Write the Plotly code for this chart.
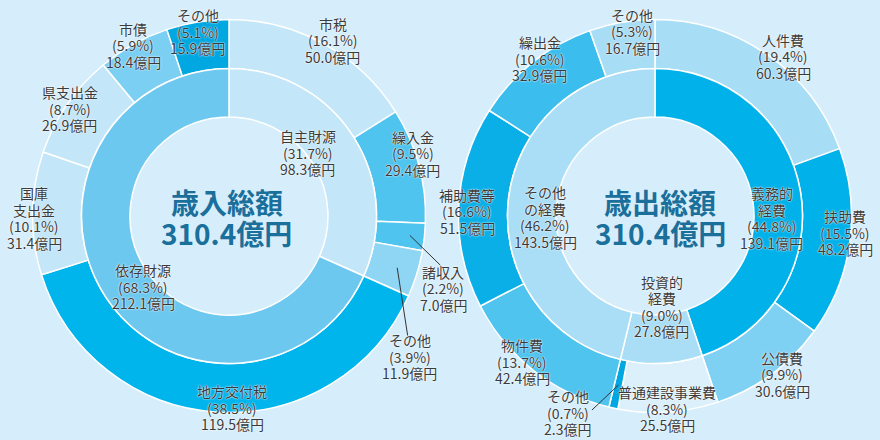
import math
import plotly.graph_objects as go

W, H = 880, 440
BG = "#d6eefb"
TXT = "#3a3a3a"
TITLE_C = "#1a6f9b"
FONT = "Noto Sans CJK JP"

# ---------------- data ----------------
rev_total = 310.4
rev_inner_names = ["自主財源", "依存財源"]
rev_inner_values = [98.3, 212.1]
rev_inner_pcts = ["31.7", "68.3"]
rev_outer_names = ["市税", "繰入金", "諸収入", "その他", "地方交付税", "国庫支出金", "県支出金", "市債", "その他"]
rev_outer_values = [50.0, 29.4, 7.0, 11.9, 119.5, 31.4, 26.9, 18.4, 15.9]
rev_outer_pcts = ["16.1", "9.5", "2.2", "3.9", "38.5", "10.1", "8.7", "5.9", "5.1"]

exp_total = 310.4
exp_inner_names = ["義務的経費", "投資的経費", "その他の経費"]
exp_inner_values = [139.1, 27.8, 143.5]
exp_inner_pcts = ["44.8", "9.0", "46.2"]
exp_outer_names = ["人件費", "扶助費", "公債費", "普通建設事業費", "その他", "物件費", "補助費等", "繰出金", "その他"]
exp_outer_values = [60.3, 48.2, 30.6, 25.5, 2.3, 42.4, 51.5, 32.9, 16.7]
exp_outer_pcts = ["19.4", "15.5", "9.9", "8.3", "0.7", "13.7", "16.6", "10.6", "5.3"]

# ---------------- styling / layout ----------------
rev_inner_colors = ["#c3e6f8", "#6dc8ef"]
rev_outer_colors = ["#c3e6f8", "#4ec4ef", "#4ec4ef", "#8fd5f4", "#00b4ec",
                    "#c3e6f8", "#c3e6f8", "#7acff2", "#00a7e1"]
exp_inner_colors = ["#00b1ea", "#aadef6", "#aadef6"]
exp_outer_colors = ["#a8ddf6", "#00b1ea", "#7fd1f3", "#dbf0fb", "#00a7e1",
                    "#4ec4ef", "#0aafe8", "#3bbeee", "#a8ddf6"]

# display line breaks for names
rev_inner_disp = [["自主財源"], ["依存財源"]]
rev_outer_disp = [["市税"], ["繰入金"], ["諸収入"], ["その他"], ["地方交付税"],
                  ["国庫", "支出金"], ["県支出金"], ["市債"], ["その他"]]
exp_inner_disp = [["義務的", "経費"], ["投資的", "経費"], ["その他", "の経費"]]
exp_outer_disp = [["人件費"], ["扶助費"], ["公債費"], ["普通建設事業費"], ["その他"],
                  ["物件費"], ["補助費等"], ["繰出金"], ["その他"]]

# label placement (radius px, angle deg clockwise from 12 o'clock)
rev_inner_lab = [(101, 51.4), (111, 230.5)]
rev_outer_lab = [(204, 30.6), (194, 71.1), (226, 108.6), (229, 127.9), (192, 179.1),
                 (195, 269.4), (192, 303.9), (196, 330.7), (187, 350.4)]
exp_inner_lab = [(117, 91.0), (91, 175.6), (110, 269.5)]
exp_outer_lab = [(205, 38.7), (191, 95.1), (203, 141.2), (193, 176.4), (215, 203.9),
                 (197, 222.3), (188, 271.5), (195, 323.8), (186, 352.9)]
# leader lines: (segment index, start radius, end radius, end angle)
rev_leaders = [(2, 182, 217, 103.1), (3, 176, 215, 123.8)]
exp_leaders = [(4, 173, 204, 198.0)]

CX_L, CX_R, CY = 229, 655, 216
R_OUT, R_MID, R_IN = 196.5, 147.5, 99
LINE_H = 16.5
FS = 14


def domain(cx, cy, r):
    return dict(x=[(cx - r) / W, (cx + r) / W], y=[1 - (cy + r) / H, 1 - (cy - r) / H])


def pie(values, names, colors, cx, r, hole, key):
    return go.Pie(values=values, labels=[f"{key}{i}" for i in range(len(values))],
                  hovertext=names, sort=False, direction="clockwise",
                  rotation=0, hole=hole, textinfo="none", domain=domain(cx, CY, r),
                  marker=dict(colors=colors, line=dict(color="white", width=1.5)),
                  hovertemplate="%{hovertext}: %{value}億円<extra></extra>")


fig = go.Figure()
fig.add_trace(pie(rev_outer_values, rev_outer_names, rev_outer_colors, CX_L, R_OUT, R_MID / R_OUT, "ro"))
fig.add_trace(pie(rev_inner_values, rev_inner_names, rev_inner_colors, CX_L, R_MID, R_IN / R_MID, "ri"))
fig.add_trace(pie(exp_outer_values, exp_outer_names, exp_outer_colors, CX_R, R_OUT, R_MID / R_OUT, "eo"))
fig.add_trace(pie(exp_inner_values, exp_inner_names, exp_inner_colors, CX_R, R_MID, R_IN / R_MID, "ei"))

annotations = []
shapes = []
shadow = "0 0 2px #ffffff, 0 0 1px #ffffff"


def polar(cx, r, a):
    rad = math.radians(a)
    return cx + r * math.sin(rad), CY - r * math.cos(rad)


def add_labels(cx, disp, pcts, values, placement):
    for lines, p, v, (r, a) in zip(disp, pcts, values, placement):
        all_lines = lines + [f"({p}%)", f"{v:.1f}億円"]
        x, y = polar(cx, r, a)
        n = len(all_lines)
        for i, t in enumerate(all_lines):
            yy = y + (i - (n - 1) / 2) * LINE_H
            annotations.append(dict(x=x / W, y=1 - yy / H, xref="paper", yref="paper",
                                    text=t, showarrow=False, xanchor="center", yanchor="middle",
                                    font=dict(family=FONT, size=FS, color=TXT, shadow=shadow)))


def mid_angles(values):
    tot = sum(values)
    out, c = [], 0
    for v in values:
        out.append((c + v / 2) / tot * 360)
        c += v
    return out


def add_leaders(cx, values, leaders):
    mids = mid_angles(values)
    for idx, r0, r1, a1 in leaders:
        x0, y0 = polar(cx, r0, mids[idx])
        x1, y1 = polar(cx, r1, a1)
        shapes.append(dict(type="line", xref="paper", yref="paper",
                           x0=x0 / W, y0=1 - y0 / H, x1=x1 / W, y1=1 - y1 / H,
                           line=dict(color="#333333", width=1)))


add_labels(CX_L, rev_outer_disp, rev_outer_pcts, rev_outer_values, rev_outer_lab)
add_labels(CX_L, rev_inner_disp, rev_inner_pcts, rev_inner_values, rev_inner_lab)
add_labels(CX_R, exp_outer_disp, exp_outer_pcts, exp_outer_values, exp_outer_lab)
add_labels(CX_R, exp_inner_disp, exp_inner_pcts, exp_inner_values, exp_inner_lab)
add_leaders(CX_L, rev_outer_values, rev_leaders)
add_leaders(CX_R, exp_outer_values, exp_leaders)

for cx, title, total in [(CX_L - 2, "歳入総額", rev_total), (CX_R + 5, "歳出総額", exp_total)]:
    for t, yy in [(title, 202), (f"{total:.1f}億円", 233)]:
        annotations.append(dict(x=cx / W, y=1 - yy / H, xref="paper", yref="paper",
                                text=f"<b>{t}</b>", showarrow=False, xanchor="center",
                                yanchor="middle",
                                font=dict(family=FONT, size=28, color=TITLE_C)))

fig.update_layout(width=W, height=H, margin=dict(l=0, r=0, t=0, b=0),
                  paper_bgcolor=BG, plot_bgcolor=BG, showlegend=False,
                  annotations=annotations, shapes=shapes)
fig.write_html("out.html", config={"displayModeBar": False},
               post_script="document.body.style.margin='0';document.body.style.background='%s';" % BG)
